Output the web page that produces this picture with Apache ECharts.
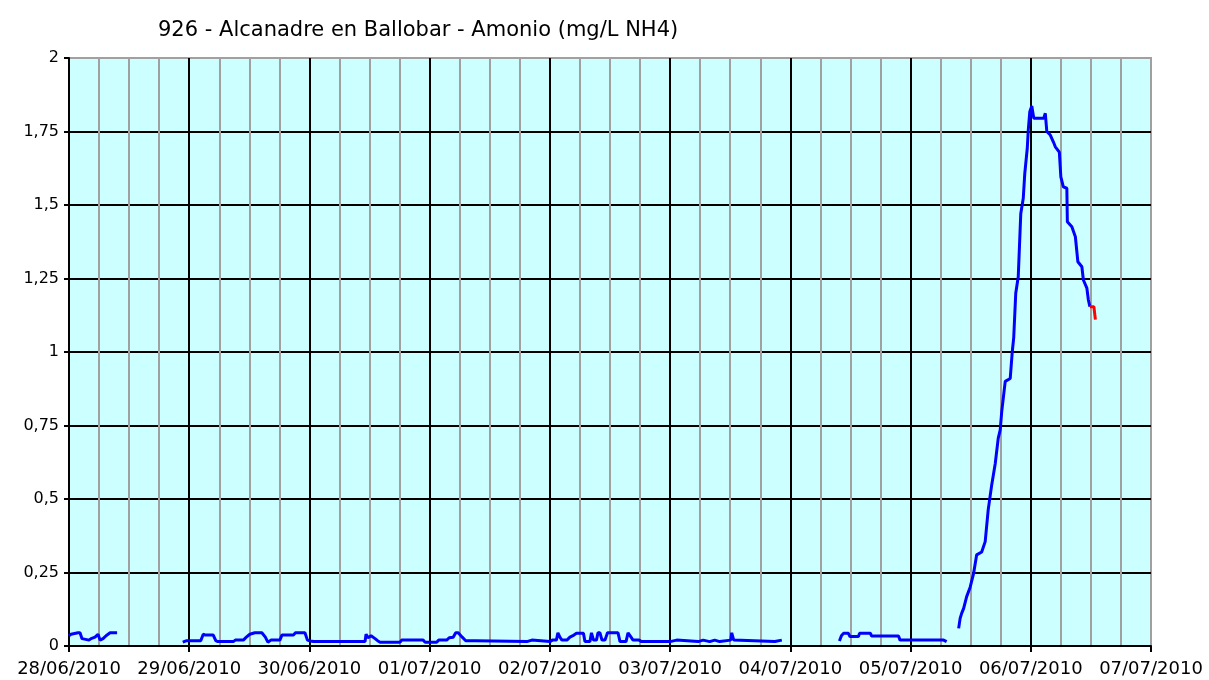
<!DOCTYPE html>
<html>
<head>
<meta charset="utf-8">
<script src="https://cdn.jsdelivr.net/npm/echarts@6/dist/echarts.min.js"></script>
<style>
html,body{margin:0;padding:0;background:#fff;}
#chart{width:1209px;height:680px;}
</style>
</head>
<body>
<div id="chart"></div>
<script>
const titleText = '926 - Alcanadre en Ballobar - Amonio (mg/L NH4)';
const tickLabels = ['28/06/2010','29/06/2010','30/06/2010','01/07/2010','02/07/2010','03/07/2010','04/07/2010','05/07/2010','06/07/2010','07/07/2010'];
// hours since 28/06/2010 00:00
const blueHours = [
  0,0.4,1.8,2.2,2.6,4,4.4,5.2,5.8,6.2,6.8,7.4,8.2,9.6,
  10,
  22.7,23.5,26.3,26.8,27.2,28.8,29.3,29.7,32.8,33.2,34.8,35.4,36.1,37.1,38.5,39.2,39.7,40.3,42.1,42.5,44.8,45.2,47.1,47.6,48.2,48.8,59.1,59.3,59.7,60.3,61.1,61.6,62.1,66.1,66.4,70.7,71.1,73.4,73.8,75.4,75.9,76.7,77.2,77.7,78.5,79.2,81.2,81.5,91.4,91.6,92.4,92.6,96,96.5,97.3,97.6,98.0,98.4,99.4,100,100.6,101.3,102.7,103,104,104.3,104.7,105.3,105.6,106,106.4,107,107.5,109.6,110,111.2,111.6,112.2,112.6,113.8,114.3,120,120.3,121.3,121.6,125.6,125.8,126.6,126.8,127.9,128.1,128.9,129.1,129.9,130.1,132.1,132.3,132.7,132.9,140.9,141.1,142.3,
  148,
  153.8,154.2,154.6,155.6,155.9,157.6,157.8,160,160.2,165.6,165.9,174.6,175.2,
  176,
  177.6,177.9,178.2,178.6,179.2,179.9,180.6,181.2,182.2,182.9,183.5,184.2,184.9,185.5,185.9,186.2,186.9,187.9,188.3,188.6,189.0,189.5,190.0,190.5,190.8,191.3,191.5,191.8,192.2,192.6,194.6,194.9,195.2,195.9,196.5,196.9,197.7,198.0,198.5,199.2,199.3,200.2,200.9,201.4,202.2,202.5,203.2,203.5,203.8
];
const blueValues = [
  0.035,0.04,0.045,0.045,0.025,0.02,0.025,0.03,0.04,0.02,0.025,0.035,0.045,0.045,
  null,
  0.013,0.018,0.018,0.04,0.037,0.037,0.018,0.015,0.015,0.02,0.02,0.03,0.04,0.045,0.045,0.03,0.013,0.02,0.02,0.037,0.037,0.045,0.045,0.02,0.017,0.015,0.015,0.04,0.028,0.035,0.025,0.018,0.013,0.013,0.02,0.02,0.013,0.013,0.02,0.02,0.028,0.03,0.045,0.045,0.03,0.018,0.018,0.015,0.015,0.02,0.02,0.015,0.015,0.02,0.02,0.045,0.03,0.02,0.02,0.03,0.035,0.043,0.043,0.015,0.015,0.045,0.02,0.02,0.045,0.045,0.02,0.02,0.045,0.045,0.015,0.015,0.045,0.03,0.02,0.02,0.015,0.015,0.02,0.02,0.015,0.015,0.02,0.02,0.015,0.015,0.02,0.02,0.015,0.015,0.02,0.02,0.045,0.02,0.015,0.015,0.02,0.02,
  null,
  0.017,0.035,0.043,0.043,0.032,0.032,0.043,0.043,0.034,0.034,0.02,0.02,0.015,
  null,
  0.06,0.094,0.111,0.128,0.168,0.2,0.248,0.31,0.32,0.355,0.463,0.548,0.62,0.706,0.735,0.797,0.9,0.91,1.0,1.05,1.2,1.256,1.47,1.523,1.607,1.693,1.755,1.817,1.837,1.795,1.795,1.812,1.75,1.738,1.715,1.698,1.68,1.596,1.562,1.557,1.443,1.426,1.392,1.307,1.29,1.245,1.217,1.177,1.154
];
const redHours = [203.8,204.6,204.9];
const redValues = [1.154,1.154,1.11];

const blueData = blueHours.map((h,i)=>[h, blueValues[i]]);
const redData = redHours.map((h,i)=>[h, redValues[i]]);

const chart = echarts.init(document.getElementById('chart'), null, {renderer:'canvas'});
const FONT = 'DejaVu Sans';
chart.setOption({
  animation:false,
  backgroundColor:'#ffffff',
  title:{
    text:titleText,
    left:153, top:15,
    textStyle:{fontFamily:FONT,fontSize:21,fontWeight:'normal',color:'#000'}
  },
  grid:{
    left:69, right:58, top:58, bottom:34,
    show:true, backgroundColor:'#CCFFFF', borderColor:'#A0A0A0', borderWidth:2
  },
  xAxis:{
    type:'value', min:0, max:216, interval:24,
    axisLine:{show:true, onZero:false, lineStyle:{color:'#000', width:2}},
    axisTick:{show:true, length:6, lineStyle:{color:'#000', width:2}},
    axisLabel:{
      fontFamily:FONT, fontSize:18, color:'#000', margin:14,
      formatter:function(v){ return tickLabels[Math.round(v/24)]; }
    },
    splitLine:{show:true, showMaxLine:false, lineStyle:{color:'#000', width:2}},
    minorTick:{show:false, splitNumber:4},
    minorSplitLine:{show:true, lineStyle:{color:'#A0A0A0', width:2}}
  },
  yAxis:{
    type:'value', min:0, max:2, interval:0.25,
    axisLine:{show:true, lineStyle:{color:'#000', width:2}},
    axisTick:{show:true, length:5, lineStyle:{color:'#000', width:2}},
    axisLabel:{
      fontFamily:FONT, fontSize:16, color:'#000', margin:10,
      formatter:function(v){ return String(v).replace('.', ','); }
    },
    splitLine:{show:true, showMaxLine:false, lineStyle:{color:'#000', width:2}}
  },
  series:[
    {type:'line', data:blueData, showSymbol:false, connectNulls:false,
     lineStyle:{color:'#0000FF', width:3}, itemStyle:{color:'#0000FF'}, z:3},
    {type:'line', data:redData, showSymbol:false,
     lineStyle:{color:'#FF0000', width:3}, itemStyle:{color:'#FF0000'}, z:4}
  ]
});
</script>
</body>
</html>
